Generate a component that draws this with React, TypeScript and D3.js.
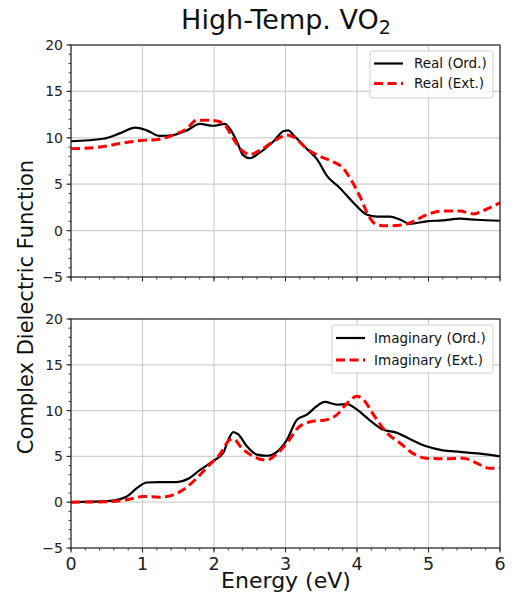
import React from "react";
import * as d3 from "d3";

const xTicks = [0, 1, 2, 3, 4, 5, 6];
const yTicks = [-5, 0, 5, 10, 15, 20];

const realOrd: [number, number][] = [
  [0, 9.63], [0.45, 9.9], [0.69, 10.5], [0.9, 11.1], [1.06, 10.8], [1.24, 10.2], [1.43, 10.3],
  [1.62, 10.8], [1.8, 11.5], [1.99, 11.3], [2.15, 11.5], [2.22, 11.0], [2.32, 9.6], [2.41, 8.1],
  [2.5, 7.8], [2.64, 8.4], [2.83, 9.6], [2.97, 10.7], [3.04, 10.8], [3.11, 10.3], [3.3, 8.8],
  [3.44, 7.7], [3.58, 5.9], [3.76, 4.6], [3.95, 3.0], [4.14, 1.7], [4.28, 1.5], [4.46, 1.5],
  [4.6, 1.2], [4.74, 0.73], [4.97, 1.0], [5.2, 1.1], [5.44, 1.28], [5.67, 1.17], [6, 1.06],
];

const realExt: [number, number][] = [
  [0, 8.83], [0.41, 9.0], [0.69, 9.4], [0.97, 9.7], [1.24, 9.85], [1.43, 10.3], [1.62, 11.0],
  [1.76, 11.9], [1.9, 11.9], [2.04, 11.8], [2.15, 11.4], [2.27, 9.9], [2.39, 8.65], [2.5, 8.2],
  [2.64, 8.65], [2.83, 9.6], [3.02, 10.3], [3.11, 10.1], [3.3, 8.8], [3.48, 8.0], [3.67, 7.4],
  [3.81, 6.7], [3.9, 5.7], [4.04, 3.7], [4.18, 1.35], [4.28, 0.62], [4.42, 0.51], [4.65, 0.62],
  [4.79, 1.0], [4.97, 1.7], [5.2, 2.1], [5.44, 2.1], [5.63, 1.8], [5.81, 2.3], [6, 3.0],
];

const imagOrd: [number, number][] = [
  [0, 0], [0.55, 0.15], [0.78, 0.62], [0.92, 1.53], [1.06, 2.15], [1.24, 2.2], [1.48, 2.2],
  [1.64, 2.55], [1.8, 3.5], [1.99, 4.5], [2.13, 5.4], [2.2, 6.8], [2.27, 7.66], [2.34, 7.4],
  [2.46, 6.1], [2.6, 5.2], [2.74, 5.07], [2.88, 5.5], [3.02, 6.8], [3.16, 9.0], [3.3, 9.56],
  [3.44, 10.5], [3.55, 10.95], [3.72, 10.66], [3.86, 10.7], [4.0, 10.1], [4.18, 8.94],
  [4.37, 7.9], [4.55, 7.6], [4.74, 6.9], [4.97, 6.1], [5.2, 5.66], [5.44, 5.5], [5.72, 5.3], [6, 5.0],
];

const imagExt: [number, number][] = [
  [0, 0], [0.55, 0.07], [0.78, 0.26], [1.01, 0.62], [1.24, 0.55], [1.43, 0.8], [1.57, 1.35],
  [1.76, 2.63], [1.94, 4.1], [2.08, 5.2], [2.22, 6.8], [2.27, 6.9], [2.39, 5.9], [2.55, 5.0],
  [2.74, 4.6], [2.88, 5.3], [3.02, 6.46], [3.2, 8.3], [3.39, 8.85], [3.58, 9.0], [3.72, 9.56],
  [3.86, 10.8], [4.0, 11.57], [4.09, 11.2], [4.23, 9.56], [4.42, 7.55], [4.6, 6.46], [4.79, 5.3],
  [4.97, 4.8], [5.2, 4.74], [5.49, 4.8], [5.67, 4.27], [5.86, 3.7], [6, 3.7],
];

const FONT = "'DejaVu Sans', sans-serif";
const xMinor = d3.range(0, 6.0001, 0.2);
const yMinor = d3.range(-5, 20.0001, 1);

type PanelProps = {
  top: number;
  bottom: number;
  ord: [number, number][];
  ext: [number, number][];
  labels: [string, string];
  legend: { x0: number; x1: number; y0: number; y1: number; lx0: number; lx1: number; tx: number; r1: number; r2: number };
  showXLabels: boolean;
};

const Panel = ({ top, bottom, ord, ext, labels, legend, showXLabels }: PanelProps) => {
  const x = d3.scaleLinear().domain([0, 6]).range([71, 500]);
  const y = d3.scaleLinear().domain([-5, 20]).range([bottom, top]);
  const line = d3
    .line<[number, number]>()
    .x((d) => x(d[0]))
    .y((d) => y(d[1]))
    .curve(d3.curveMonotoneX);
  const grid = "#cfcfcf";
  const axisCol = "#2a2a2a";
  return (
    <g>
      {xTicks.map((t) => (
        <line key={"gx" + t} x1={x(t)} x2={x(t)} y1={top} y2={bottom} stroke={grid} strokeWidth={1.2} />
      ))}
      {yTicks.map((t) => (
        <line key={"gy" + t} x1={71} x2={500} y1={y(t)} y2={y(t)} stroke={grid} strokeWidth={1.2} />
      ))}
      <path d={line(ord) || ""} fill="none" stroke="#000" strokeWidth={2.2} />
      <path d={line(ext) || ""} fill="none" stroke="#ff0000" strokeWidth={3} strokeDasharray="9,4.5" />
      <rect x={71} y={top} width={429} height={bottom - top} fill="none" stroke={axisCol} strokeWidth={1.2} />
      {xMinor.map((t, i) => (
        <line key={"xm" + i} x1={x(t)} x2={x(t)} y1={bottom} y2={bottom + 2.5} stroke={axisCol} strokeWidth={0.9} />
      ))}
      {xTicks.map((t) => (
        <line key={"xt" + t} x1={x(t)} x2={x(t)} y1={bottom} y2={bottom + 4.5} stroke={axisCol} strokeWidth={1.1} />
      ))}
      {yMinor.map((t, i) => (
        <line key={"ym" + i} x1={71} x2={68.5} y1={y(t)} y2={y(t)} stroke={axisCol} strokeWidth={0.9} />
      ))}
      {yTicks.map((t) => (
        <line key={"yt" + t} x1={71} x2={66.5} y1={y(t)} y2={y(t)} stroke={axisCol} strokeWidth={1.1} />
      ))}
      {yTicks.map((t) => (
        <text key={"yl" + t} x={63} y={y(t)} dy="0.36em" textAnchor="end" fontSize={14} fill="#222" fontFamily={FONT}>
          {t < 0 ? "\u2212" + Math.abs(t) : t}
        </text>
      ))}
      {showXLabels &&
        xTicks.map((t) => (
          <text key={"xl" + t} x={x(t)} y={bottom + 22} textAnchor="middle" fontSize={17.5} fill="#222" fontFamily={FONT}>
            {t}
          </text>
        ))}
      <rect
        x={legend.x0}
        y={legend.y0}
        width={legend.x1 - legend.x0}
        height={legend.y1 - legend.y0}
        rx={2.5}
        fill="#fff"
        fillOpacity={0.85}
        stroke="#d0d0d0"
        strokeWidth={1}
      />
      <line x1={legend.lx0} x2={legend.lx1} y1={legend.r1} y2={legend.r1} stroke="#000" strokeWidth={2.2} />
      <line
        x1={legend.lx0}
        x2={legend.lx1}
        y1={legend.r2}
        y2={legend.r2}
        stroke="#ff0000"
        strokeWidth={3}
        strokeDasharray="9,4.5"
      />
      <text x={legend.tx} y={legend.r1} dy="0.36em" fontSize={13.5} fill="#111" fontFamily={FONT}>
        {labels[0]}
      </text>
      <text x={legend.tx} y={legend.r2} dy="0.36em" fontSize={13.5} fill="#111" fontFamily={FONT}>
        {labels[1]}
      </text>
    </g>
  );
};

export default function App() {
  return (
    <svg
      width={513}
      height={600}
      style={{ position: "absolute", left: 0, top: 0, background: "#fff" }}
      fontFamily={FONT}
    >
      <rect x={0} y={0} width={513} height={600} fill="#fff" />
      <text x={286} y={29} textAnchor="middle" fontSize={27} fill="#111" fontFamily={FONT}>
        High-Temp. VO
        <tspan fontSize={19} dy={5}>2</tspan>
      </text>
      <Panel
        top={45}
        bottom={277}
        ord={realOrd}
        ext={realExt}
        labels={["Real (Ord.)", "Real (Ext.)"]}
        legend={{ x0: 370, x1: 493, y0: 51, y1: 98, lx0: 374, lx1: 403, tx: 414, r1: 63.5, r2: 83.5 }}
        showXLabels={false}
      />
      <Panel
        top={319}
        bottom={548}
        ord={imagOrd}
        ext={imagExt}
        labels={["Imaginary (Ord.)", "Imaginary (Ext.)"]}
        legend={{ x0: 332, x1: 493, y0: 325, y1: 373, lx0: 336, lx1: 365, tx: 374, r1: 338, r2: 360 }}
        showXLabels={true}
      />
      <text
        transform="translate(33,307) rotate(-90)"
        textAnchor="middle"
        fontSize={21}
        fill="#111"
        fontFamily={FONT}
      >
        Complex Dielectric Function
      </text>
      <text x={286} y={588} textAnchor="middle" fontSize={22} fill="#111" fontFamily={FONT}>
        Energy (eV)
      </text>
    </svg>
  );
}
